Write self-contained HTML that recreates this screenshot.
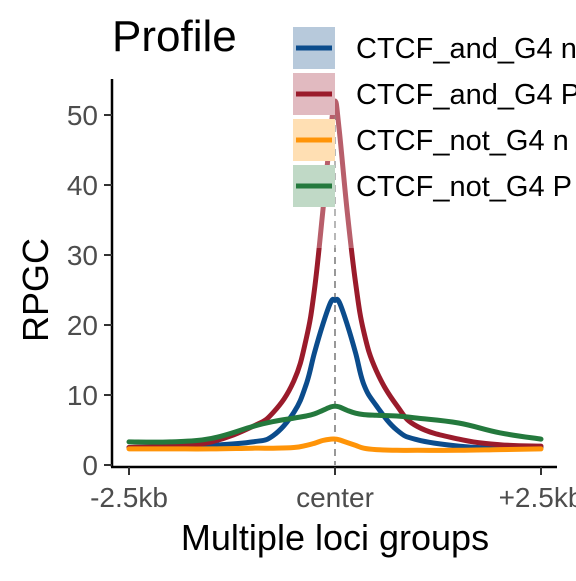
<!DOCTYPE html>
<html><head><meta charset="utf-8"><style>
body{margin:0;background:#fff}
svg text{font-family:"Liberation Sans",Arial,sans-serif}
</style></head><body>
<svg id="chart" width="576" height="576" viewBox="0 0 576 576">
<text x="112" y="51" font-size="44" fill="#000">Profile</text>
<g id="plot"></g>
<rect x="286" y="20" width="290" height="228" fill="#fff" opacity="0.3"/>
<g id="legend"></g>
<g id="axes"></g>
<text x="48" y="290" font-size="36" text-anchor="middle" transform="rotate(-90 48 290)">RPGC</text>
<text x="335" y="550" font-size="36" text-anchor="middle">Multiple loci groups</text>
</svg>
<script>
const positions=[-2500,-2000,-1500,-1000,-750,-500,-350,-250,-150,-50,0,50,150,250,350,500,750,1000,1500,2000,2500];
const seriesNames=["CTCF_and_G4 n","CTCF_and_G4 P","CTCF_not_G4 n","CTCF_not_G4 P"];
const blueValues=[2.5,2.6,2.8,3.3,4.2,7.5,11.5,16,20,23.3,23.5,23.3,20,16,11.5,8.5,5,3.6,2.7,2.4,2.5];
const redValues=[2.5,2.7,3.3,5.5,7.5,12,18,25,36,48,52,48,36,26,19,13.5,8.5,5.5,3.7,2.9,2.7];
const orangeValues=[2.3,2.3,2.3,2.4,2.4,2.5,2.8,3.1,3.5,3.7,3.7,3.6,3.2,2.8,2.4,2.2,2.1,2.1,2.1,2.2,2.3];
const greenValues=[3.3,3.3,3.8,5.5,6.2,6.7,7,7.3,7.8,8.3,8.4,8.3,7.8,7.4,7.2,7.1,7,6.7,6,4.6,3.7];
const yTicks=[0,10,20,30,40,50];
const xTicks=[-2500,0,2500];
const xTickLabels=["-2.5kb","center","+2.5kb"];
const colors=["#0b4c8c","#9a1b2b","#ff9408","#24793d"];
const keyFills=["#b7c9db","#e1bac0","#ffdfb3","#c0d9c6"];
const NS="http://www.w3.org/2000/svg";
const X=v=>129+(v+2500)/5000*412;
const Y=v=>465-v*7;
function mk(tag,attrs,parent){const e=document.createElementNS(NS,tag);for(const k in attrs)e.setAttribute(k,attrs[k]);parent.appendChild(e);return e;}
function pathFor(vals){
  const p=positions.map((x,i)=>[X(x),Y(vals[i])]);
  let d="M"+p[0][0]+","+p[0][1];
  for(let i=0;i<p.length-1;i++){
    const p0=p[Math.max(0,i-1)],p1=p[i],p2=p[i+1],p3=p[Math.min(p.length-1,i+2)];
    const t=0.2;
    d+=" C"+(p1[0]+(p2[0]-p0[0])*t)+","+(p1[1]+(p2[1]-p0[1])*t)+" "+(p2[0]-(p3[0]-p1[0])*t)+","+(p2[1]-(p3[1]-p1[1])*t)+" "+p2[0]+","+p2[1];
  }
  return d;
}
const plot=document.getElementById("plot");
const dash=mk("line",{x1:X(0),x2:X(0),y1:Y(52),y2:465,stroke:"#555","stroke-width":1.2,"stroke-dasharray":"7,5"},plot);


const allVals=[blueValues,redValues,orangeValues,greenValues];
const order=[0,1,3,2];
const lineNames=["line-ctcf-and-g4-n","line-ctcf-and-g4-p","line-ctcf-not-g4-n","line-ctcf-not-g4-p"];
order.forEach(i=>{
  const e=mk("path",{d:pathFor(allVals[i]),fill:"none",stroke:colors[i],"stroke-width":5,"stroke-linejoin":"round","stroke-linecap":"round"},plot);
  
  
});
const leg=document.getElementById("legend");
seriesNames.forEach((n,i)=>{
  const y=27+i*46;
  const r=mk("rect",{x:293,y:y,width:42,height:42,fill:keyFills[i]},leg);
  
  
  mk("line",{x1:296,x2:332,y1:y+21,y2:y+21,stroke:colors[i],"stroke-width":5},leg);
  const t=mk("text",{x:356,y:y+31,"font-size":29,fill:"#000"},leg);
  t.textContent=n;
  
  
});
const ax=document.getElementById("axes");
mk("line",{x1:112,x2:112,y1:79,y2:467,stroke:"#000","stroke-width":2.5},ax);
mk("line",{x1:111,x2:557,y1:467,y2:467,stroke:"#000","stroke-width":2.5},ax);
yTicks.forEach(v=>{
  mk("line",{x1:104,x2:112,y1:Y(v),y2:Y(v),stroke:"#333","stroke-width":2},ax);
  const t=mk("text",{x:98,y:Y(v)+10,"font-size":28,"text-anchor":"end",fill:"#4d4d4d"},ax);
  t.textContent=v;
  
  
});
xTicks.forEach((v,i)=>{
  mk("line",{x1:X(v),x2:X(v),y1:467,y2:475,stroke:"#333","stroke-width":2},ax);
  const t=mk("text",{x:X(v),y:507,"font-size":28,"text-anchor":"middle",fill:"#4d4d4d"},ax);
  t.textContent=xTickLabels[i];
  
  
});
</script>
</body></html>
